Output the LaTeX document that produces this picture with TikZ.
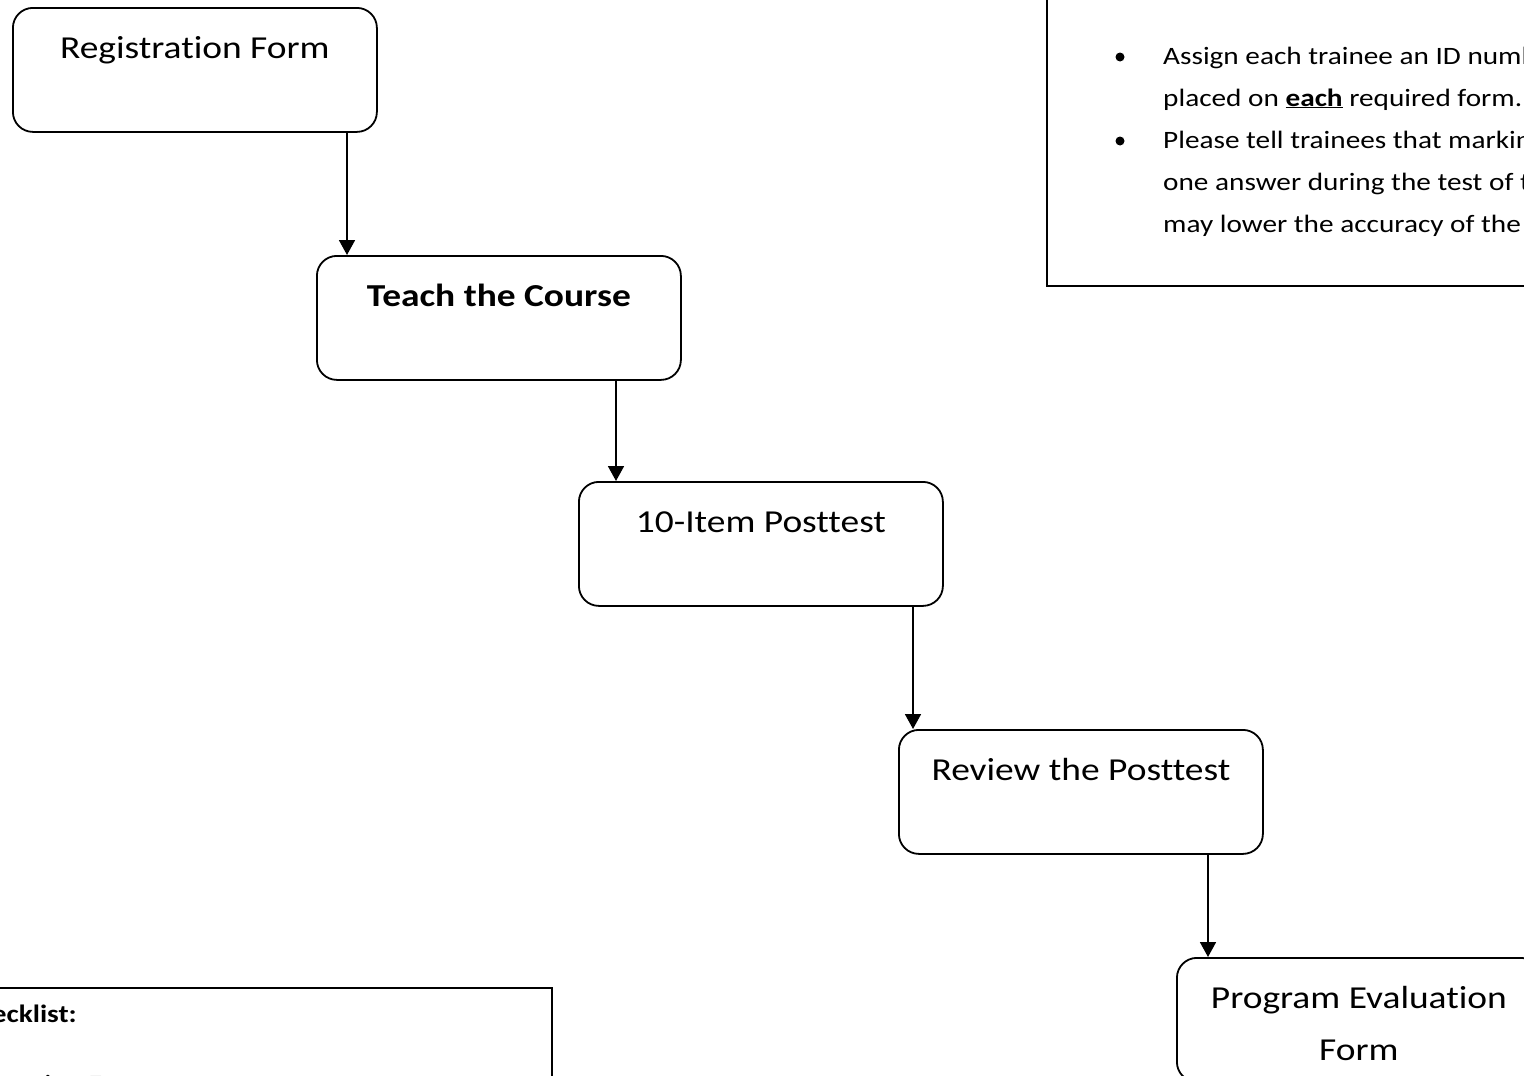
\documentclass[tikz,border=0pt]{standalone}
\usepackage{fontspec}
\setmainfont{Carlito}[FakeStretch=1.17,Ligatures=NoCommon]
\usetikzlibrary{arrows.meta,calc}
\tikzset{
  flowbox/.style={draw, line width=1.8pt, rounded corners=20pt, minimum width=364pt, minimum height=124pt, inner sep=0pt, anchor=north west},
  boxtext/.style={anchor=base, font=\fontsize{32}{38}\selectfont, inner sep=0pt},
  notetext/.style={anchor=base west, font=\fontsize{25}{30}\selectfont, inner sep=0pt},
  arr/.style={line width=1.8pt, -{Triangle[width=16pt,length=15pt]}},
  framebox/.style={draw, line width=1.9pt},
}
\begin{document}
\begin{tikzpicture}[x=1pt,y=-1pt]
\useasboundingbox (0,0) rectangle (1524,1076);
\clip (0,0) rectangle (1524,1076);
\fill[white] (0,0) rectangle (1524,1076);
% flow boxes
\node[flowbox] (b1) at (12,7) {};
\node[flowbox] (b2) at (316,255) {};
\node[flowbox] (b3) at (578,481) {};
\node[flowbox] (b4) at (898,729) {};
\node[flowbox] (b5) at (1176,957) {};
\node[boxtext] (t1) at ($(b1.north)+(0,51)$) {Registration Form};
\node[boxtext,font=\fontsize{32}{38}\selectfont\bfseries] (t2) at ($(b2.north)+(0,51)$) {Teach the Course};
\node[boxtext] (t3) at ($(b3.north)+(0,51)$) {10-Item Posttest};
\node[boxtext] (t4) at ($(b4.north)+(0,51)$) {Review the Posttest};
\node[boxtext] (t5a) at ($(b5.north)+(0,51)$) {Program Evaluation};
\node[boxtext] (t5b) at ($(b5.north)+(0,103)$) {Form};
% arrow columns
\coordinate (c1) at (347,0);
\coordinate (c2) at (616,0);
\coordinate (c3) at (913,0);
\coordinate (c4) at (1208,0);
\draw[arr] (b1.south -| c1) -- (b2.north -| c1);
\draw[arr] (b2.south -| c2) -- (b3.north -| c2);
\draw[arr] (b3.south -| c3) -- (b4.north -| c3);
\draw[arr] (b4.south -| c4) -- (b5.north -| c4);
% top-right note
\node[framebox, minimum width=500pt, minimum height=295pt, anchor=north west, inner sep=0pt] (note) at (1046,-10) {};
\foreach \yy in {57,141}{
  \fill (1120,\yy) circle (4.5pt);
}
\node[notetext] (n1) at (1163,64) {Assign each trainee an ID number that will be};
\node[notetext] (n2) at (1163,106) {placed on \textbf{\underline{each}} required form.};
\node[notetext] (n3) at (1163,148) {Please tell trainees that marking more than};
\node[notetext] (n4) at (1163,190) {one answer during the test of the posttest};
\node[notetext] (n5) at (1163,232) {may lower the accuracy of the results.};
% bottom-left checklist
\node[framebox, minimum width=600pt, minimum height=200pt, anchor=north east, inner sep=0pt] (chk) at (553,987) {};
\node[notetext, anchor=base east, font=\fontsize{25}{30}\selectfont\bfseries] (ch) at (77,1022) {Checklist:};
\node[notetext, anchor=base west] (ch2) at (-60,1092) {Registration Form};
\end{tikzpicture}
\end{document}
